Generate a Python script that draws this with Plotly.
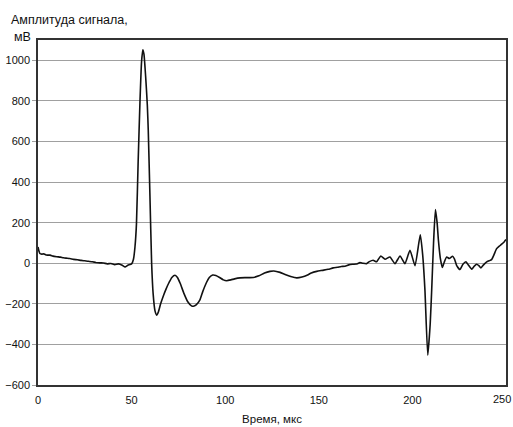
import plotly.graph_objects as go

time_us = [0, 0.5, 1, 2, 3, 4, 5, 6.5, 8, 10, 12, 13.5, 15, 17, 19, 21, 23, 25, 27, 29, 31, 33, 35, 37, 39, 41, 43, 45, 46.5, 48, 50, 51, 51.8, 52.6, 53.5, 54.5, 55.3, 56.0, 56.6, 57.5, 58.4, 58.9, 59.8, 60.7, 61.5, 62.5, 63.4, 64.3, 65.5, 67, 68.5, 70, 71.5, 73.2, 74.5, 76, 78, 80, 82, 83, 84.5, 86.5, 88, 90, 91.5, 93.3, 95, 97, 99, 100.8, 103, 105, 107.9, 111, 115, 118, 121, 123.9, 126, 129.3, 132, 135, 138.2, 141, 144, 146, 148.9, 152, 155, 157.7, 160, 162, 164, 166, 168, 170, 172, 173.5, 175.5, 177, 179, 180.9, 183.1, 185.4, 188, 190.7, 193.4, 196, 198.7, 201.4, 204.2, 205.5, 206.7, 208.2, 209.5, 210.3, 211.3, 212.3, 213.2, 213.9, 215, 216, 217, 218.3, 219.7, 221.5, 222.5, 223.6, 225.4, 227, 228.6, 230, 231.7, 233, 234.3, 235.5, 236.6, 238, 239.7, 241, 242.3, 243.5, 245, 246.5, 247.7, 249, 250]
amplitude_mv = [80, 60, 48, 45, 47, 42, 40, 40, 35, 32, 30, 27, 25, 23, 19, 17, 14, 12, 10, 7, 4, 2, 1, -3, -1, -7, -3, -10, -18, -10, -3, 20, 80, 195, 500, 803, 990, 1052, 1030, 920, 780, 655, 330, 0, -150, -235, -256, -240, -200, -160, -125, -95, -70, -59, -70, -100, -150, -190, -210, -212, -205, -180, -140, -95, -70, -58, -60, -70, -82, -86, -82, -77, -72, -71, -70, -62, -48, -40, -38, -45, -55, -65, -72, -68, -58, -48, -40, -35, -30, -23, -20, -16, -15, -8, -5, -4, 3, 0, -2, 8, 15, 7, 36, 20, 31, -2, 36, -2, 64, -12, 140, 40, -133, -453, -300, -133, 100, 264, 200, 113, 20, -21, 5, 31, 23, 34, 20, -10, -31, -5, 7, -10, -29, -15, -5, -12, -23, -8, 7, 12, 18, 40, 72, 85, 94, 105, 117]

x_ticks = [0, 50, 100, 150, 200, 250]
x_tick_labels = ["0", "50", "100", "150", "200", "250"]
y_ticks = [-600, -400, -200, 0, 200, 400, 600, 800, 1000]

y_title_line1 = "Амплитуда сигнала,"
y_title_line2 = "мВ"
x_title = "Время, мкс"

font_family = "Liberation Sans, Arial, sans-serif"

fig = go.Figure()
fig.add_trace(go.Scatter(x=time_us, y=amplitude_mv, mode="lines",
                         line=dict(color="#111111", width=1.6, shape="spline", smoothing=0.5),
                         hoverinfo="skip", showlegend=False))

# last tick label is drawn as an annotation, right-aligned to the figure edge
axis_labels = x_tick_labels[:-1] + [""]

fig.update_layout(
    width=513, height=427,
    margin=dict(l=38, r=7, t=40, b=42),
    paper_bgcolor="white", plot_bgcolor="white",
    font=dict(family=font_family, size=11, color="#111111"),
    xaxis=dict(range=[0, 250], tickvals=x_ticks, ticktext=axis_labels, showgrid=False,
               zeroline=False, showline=True, linecolor="#333333", linewidth=1.5, mirror=True,
               ticks="", tickfont=dict(size=11), ticklabelstandoff=4, automargin=False,
               title=dict(text=x_title, font=dict(size=11.5), standoff=10)),
    yaxis=dict(range=[-600, 1100], tickvals=y_ticks, showgrid=True, gridcolor="#a0a0a0",
               gridwidth=1, zeroline=False, showline=True, linecolor="#333333", linewidth=1.5,
               mirror=True, ticks="outside", ticklen=4, tickcolor="#a0a0a0",
               tickfont=dict(size=11), automargin=False),
    annotations=[
        dict(text=y_title_line1, xref="paper", yref="paper", x=-0.062, y=1.058,
             xanchor="left", yanchor="middle", showarrow=False, font=dict(size=12.5)),
        dict(text=y_title_line2, xref="paper", yref="paper", x=-0.011, y=1.008,
             xanchor="right", yanchor="middle", showarrow=False, font=dict(size=12.5)),
        dict(text=x_tick_labels[-1], xref="x", yref="paper", x=x_ticks[-1], y=0,
             xanchor="right", yanchor="top", xshift=7, yshift=-6, showarrow=False,
             font=dict(size=11)),
    ],
)

fig.write_html("out.html")
